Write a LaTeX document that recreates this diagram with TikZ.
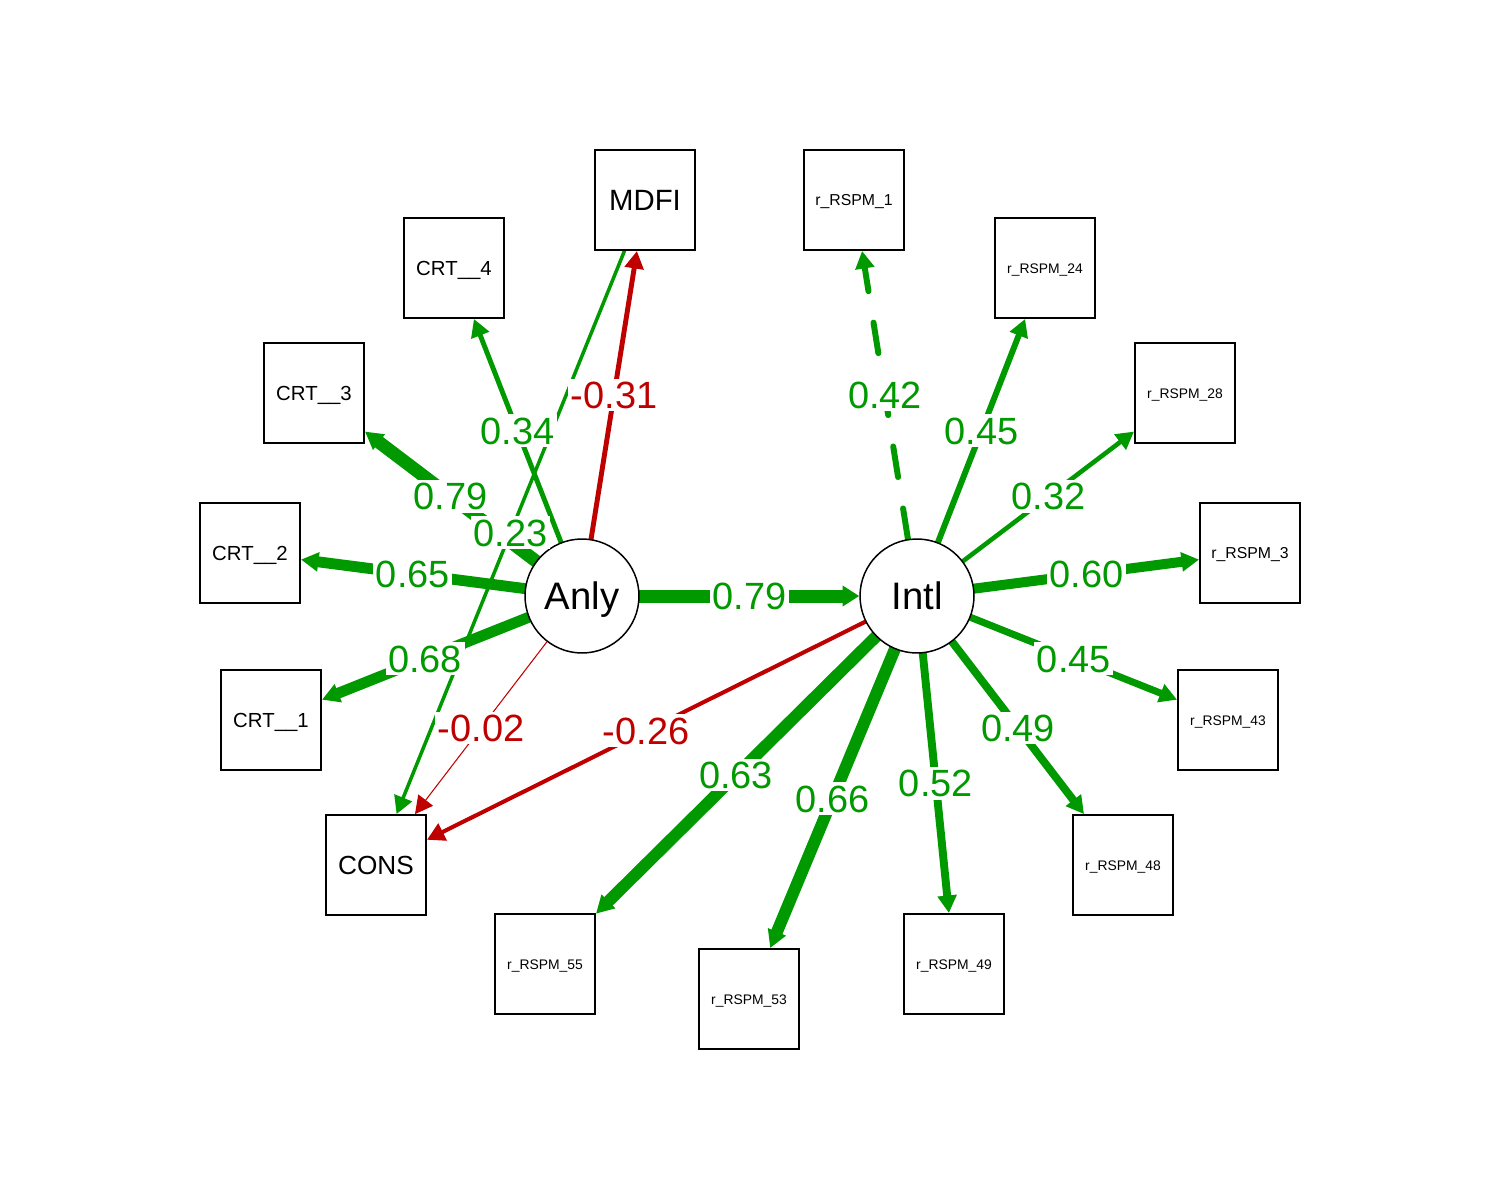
\documentclass[tikz,border=0pt]{standalone}
\usepackage{fontspec}
\setmainfont{Liberation Sans}
\usetikzlibrary{arrows.meta,backgrounds}
\definecolor{poscol}{HTML}{009900}
\definecolor{negcol}{HTML}{BF0000}
\begin{document}
\begin{tikzpicture}[x=0.02cm,y=-0.02cm,
  box/.style={draw=black,fill=white,line width=1.1pt,minimum size=2cm,inner sep=0pt,text depth=0pt},
  lat/.style={circle,draw=black,fill=white,line width=0.85pt,minimum size=2.28cm,inner sep=0pt,font=\fontsize{21.8}{22}\selectfont,text height=15.6pt,text depth=0pt},
  fmdfi/.style={font=\fontsize{16.7}{17}\selectfont,text height=12pt},
  fcons/.style={font=\fontsize{14.9}{15}\selectfont,text height=10.7pt},
  fcrt/.style={font=\fontsize{11.6}{12}\selectfont,text height=8.3pt},
  fone/.style={font=\fontsize{9}{10}\selectfont,text height=6.4pt},
  ftwo/.style={font=\fontsize{7.9}{9}\selectfont,text height=5.7pt},
  tipp/.style={-{Triangle[length=10pt,width=10.5pt]}},
  pe/.style={draw=poscol,line cap=round,tipp},
  ne/.style={draw=negcol,line cap=round,tipp},
  lbl/.style={fill=white,inner sep=1.5pt,font=\fontsize{21.6}{22}\selectfont,text=poscol,text height=15.5pt,text depth=0pt},
  nlbl/.style={lbl,text=negcol},
]
\useasboundingbox (0,0) rectangle (1500,1200);

% latent variables
\node[lat] (A) at (582,596) {Anly};
\node[lat] (I) at (917,596) {Intl};

% manifest variables
\node[box,fmdfi] (MDFI) at (645,200) {MDFI};
\node[box,fcons] (CONS) at (376,865) {CONS};
\node[box,fcrt] (C4) at (454,268) {CRT\_\_4};
\node[box,fcrt] (C3) at (314,393) {CRT\_\_3};
\node[box,fcrt] (C2) at (250,553) {CRT\_\_2};
\node[box,fcrt] (C1) at (271,720) {CRT\_\_1};
\node[box,fone] (R1) at (854,200) {r\_RSPM\_1};
\node[box,ftwo] (R24) at (1045,268) {r\_RSPM\_24};
\node[box,ftwo] (R28) at (1185,393) {r\_RSPM\_28};
\node[box,fone] (R3) at (1250,553) {r\_RSPM\_3};
\node[box,ftwo] (R43) at (1228,720) {r\_RSPM\_43};
\node[box,ftwo] (R48) at (1123,865) {r\_RSPM\_48};
\node[box,ftwo] (R49) at (954,964) {r\_RSPM\_49};
\node[box,ftwo] (R53) at (749,999) {r\_RSPM\_53};
\node[box,ftwo] (R55) at (545,964) {r\_RSPM\_55};

% edges (behind the nodes)
\begin{scope}[on background layer]
\draw[pe,line width=2.8pt] (A) -- (C4);
\draw[pe,line width=7.4pt] (A) -- (C3);
\draw[pe,line width=6.2pt] (A) -- (C2);
\draw[pe,line width=6.2pt] (A) -- (C1);
\draw[ne,line width=2.8pt] (A) -- (MDFI);
\draw[pe,line width=2.0pt] (MDFI) -- (CONS);
\draw[ne,line width=0.6pt] (A) -- (CONS);
\draw[pe,line width=7.4pt,-{Triangle[length=9.5pt,width=11.3pt]}] (A) -- (I);
\draw[ne,line width=2.3pt] (I) -- (CONS);
\draw[pe,line width=3.4pt,dash pattern=on 17.6pt off 18.1pt] (I) -- (R1);
\draw[pe,line width=3.4pt] (I) -- (R24);
\draw[pe,line width=2.6pt] (I) -- (R28);
\draw[pe,line width=5.7pt] (I) -- (R3);
\draw[pe,line width=4.0pt] (I) -- (R43);
\draw[pe,line width=4.5pt] (I) -- (R48);
\draw[pe,line width=4.5pt] (I) -- (R49);
\draw[pe,line width=6.8pt] (I) -- (R53);
\draw[pe,line width=6.8pt] (I) -- (R55);
\end{scope}

% edge labels
\path (A) -- (C4) node[lbl,pos=.5] (l1) {0.34};
\path (A) -- (C3) node[lbl,pos=.5] (l2) {0.79};
\path (A) -- (C2) node[lbl,pos=.5] (l3) {0.65};
\path (A) -- (C1) node[lbl,pos=.5] (l4) {0.68};
\path (A) -- (MDFI) node[nlbl,pos=.5] (l5) {-0.31};
\path (MDFI) -- (CONS) node[lbl,pos=.5] (l6) {0.23};
\path (A) -- (CONS) node[nlbl,pos=.5] (l7) {-0.02};
\path (A) -- (I) node[lbl,pos=.5] (l8) {0.79};
\path (I) -- (CONS) node[nlbl,pos=.5] (l9) {-0.26};
\path (I) -- (R1) node[lbl,pos=.5] (l10) {0.42};
\path (I) -- (R24) node[lbl,pos=.5] (l11) {0.45};
\path (I) -- (R28) node[lbl,pos=.5] (l12) {0.32};
\path (I) -- (R3) node[lbl,pos=.5] (l13) {0.60};
\path (I) -- (R43) node[lbl,pos=.5] (l14) {0.45};
\path (I) -- (R48) node[lbl,pos=.5] (l15) {0.49};
\path (I) -- (R49) node[lbl,pos=.5] (l16) {0.52};
\path (I) -- (R53) node[lbl,pos=.5] (l17) {0.66};
\path (I) -- (R55) node[lbl,pos=.5] (l18) {0.63};
\end{tikzpicture}
\end{document}
